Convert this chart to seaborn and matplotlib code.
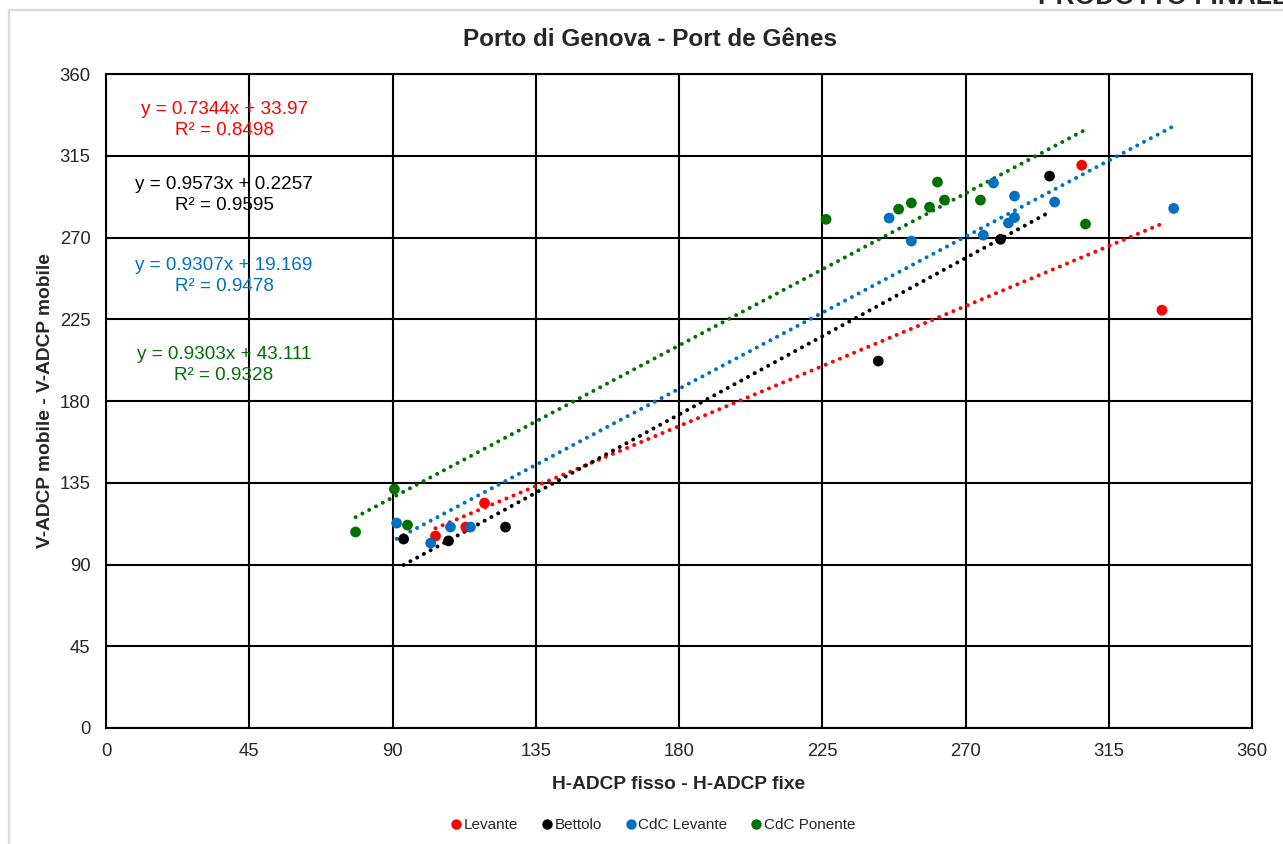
import numpy as np
import pandas as pd
import matplotlib
matplotlib.use("Agg")
import matplotlib.pyplot as plt
from matplotlib.lines import Line2D
import seaborn as sns

# ---------------- data ----------------
series_names = ["Levante", "Bettolo", "CdC Levante", "CdC Ponente"]
series_colors = ["#FF0000", "#000000", "#0070C0", "#007000"]

levante_x = [103.5, 118.9, 113.0, 306.5, 331.7]
levante_y = [105.7, 123.8, 110.6, 309.8, 230.0]

bettolo_x = [93.5, 107.6, 125.5, 242.6, 281.0, 296.4]
bettolo_y = [104.0, 103.0, 110.6, 202.0, 269.0, 303.8]

cdc_lev_x = [91.3, 102.0, 108.2, 114.5, 246.0, 253.0, 275.6, 278.8, 283.5, 285.4, 285.4, 298.0, 335.4]
cdc_lev_y = [112.8, 101.8, 110.6, 110.6, 280.7, 268.0, 271.3, 300.0, 278.0, 281.0, 292.8, 289.5, 286.0]

cdc_pon_x = [78.4, 90.6, 94.7, 226.2, 249.0, 253.0, 261.2, 258.7, 263.4, 274.7, 307.7]
cdc_pon_y = [107.9, 131.5, 111.7, 280.0, 285.6, 289.0, 300.5, 286.7, 290.6, 290.6, 277.4]

slopes = [0.7344, 0.9573, 0.9307, 0.9303]
intercepts = [33.97, 0.2257, 19.169, 43.111]
r2_values = [0.8498, 0.9595, 0.9478, 0.9328]

tick_values = [0, 45, 90, 135, 180, 225, 270, 315, 360]

title_text = "Porto di Genova - Port de Gênes"
xlabel_text = "H-ADCP fisso - H-ADCP fixe"
ylabel_text = "V-ADCP mobile - V-ADCP mobile"

xs_all = [levante_x, bettolo_x, cdc_lev_x, cdc_pon_x]
ys_all = [levante_y, bettolo_y, cdc_lev_y, cdc_pon_y]

df = pd.concat(
    [pd.DataFrame({"x": xv, "y": yv, "serie": n}) for xv, yv, n in zip(xs_all, ys_all, series_names)],
    ignore_index=True,
)

# ---------------- style ----------------
sns.set_theme(style="white")
plt.rcParams["font.family"] = ["Liberation Sans", "DejaVu Sans"]

W, H = 1283, 844
fig = plt.figure(figsize=(W / 100, H / 100), dpi=100)
fig.patch.set_facecolor("white")

L, R, T, B = 106, 1252, 74, 728
ax = fig.add_axes([L / W, 1 - B / H, (R - L) / W, (B - T) / H])
ax.set_facecolor("white")

# trend lines (dotted)
for xv, m, q, c in zip(xs_all, slopes, intercepts, series_colors):
    tx = np.array([min(xv), max(xv)])
    ax.plot(tx, m * tx + q, color=c, lw=2.9, linestyle=(0, (0.01, 1.9)),
            dash_capstyle="round", zorder=3)

sns.scatterplot(data=df, x="x", y="y", hue="serie", hue_order=series_names,
                palette=series_colors, s=60, edgecolor="none", legend=False,
                ax=ax, zorder=4)

ax.set_xlim(0, 360)
ax.set_ylim(0, 360)
ax.set_xticks(tick_values)
ax.set_yticks(tick_values)
ax.grid(True, color="black", lw=1.5)
ax.set_axisbelow(True)
for sp in ax.spines.values():
    sp.set_visible(True)
    sp.set_color("black")
    sp.set_linewidth(1.5)
ax.tick_params(axis="both", length=0, labelsize=13.3, colors="#262626", pad=11)

ax.set_xlabel(xlabel_text, fontsize=13.8, fontweight="bold", color="#262626", labelpad=11)
ax.set_ylabel(ylabel_text, fontsize=13.8, fontweight="bold", color="#262626", labelpad=4)
fig.text(0.507, 1 - 40 / H, title_text, ha="center", va="center",
         fontsize=17.5, fontweight="bold", color="#262626")

# equation labels
eq_y = [334.5, 293.3, 248.8, 199.8]
for m, q, r2, c, yy in zip(slopes, intercepts, r2_values, series_colors, eq_y):
    ax.text(37.1, yy, f"y = {m}x + {q}\nR² = {r2}", color=c, fontsize=13.6,
            ha="center", va="center", multialignment="center", linespacing=1.3,
            zorder=5)

# legend at bottom
handles = [Line2D([0], [0], marker="o", linestyle="none", markersize=7.5,
                  markerfacecolor=c, markeredgecolor="none") for c in series_colors]
fig.legend(handles, series_names, loc="center", bbox_to_anchor=(0.508, 1 - 825 / H),
           ncol=4, frameon=False, fontsize=11, handletextpad=0.0,
           columnspacing=1.4, handlelength=1.0)

# chart-area frame and cut-off header
fig.add_artist(Line2D([9 / W, 9 / W], [0, 1 - 10 / H], color="#D9D9D9", lw=1.6,
                      transform=fig.transFigure))
fig.add_artist(Line2D([9 / W, 1], [1 - 10 / H, 1 - 10 / H], color="#D9D9D9", lw=1.6,
                      transform=fig.transFigure))
fig.text(1038 / W, 1 - 4 / H, "PRODOTTO FINALE", ha="left", va="baseline",
         fontsize=19, fontweight="bold", color="#262626")

fig.savefig("out.png", dpi=100, facecolor="white")
